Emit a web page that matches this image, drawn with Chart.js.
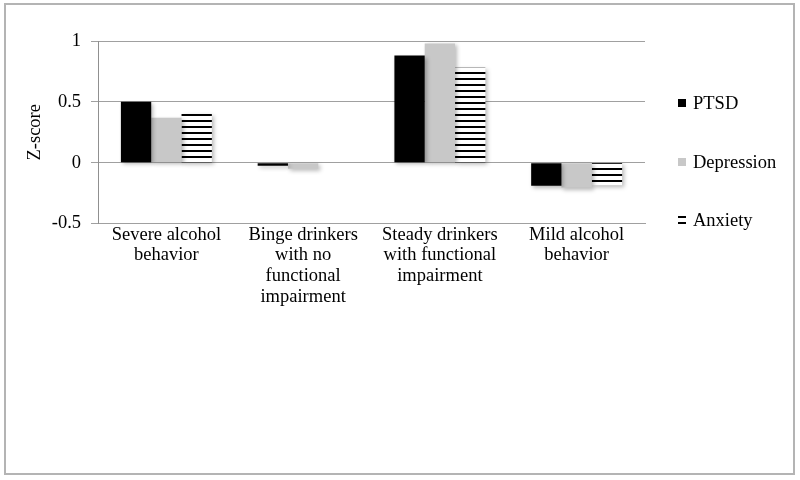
<!DOCTYPE html>
<html>
<head>
<meta charset="utf-8">
<script src="https://cdn.jsdelivr.net/npm/chart.js@4"></script>
<style>
  html, body { margin: 0; padding: 0; background: #fff; }
  #wrap { position: relative; width: 800px; height: 480px; }
  #probe { position: absolute; left: -9999px; font-family: "Liberation Serif"; font-size: 18px; }
</style>
</head>
<body>
<span id="probe">Severe alcohol</span>
<div id="wrap"><canvas id="chart" width="800" height="480"></canvas></div>
<script>
const categories = [
  ["Severe alcohol", "behavior"],
  ["Binge drinkers", "with no", "functional", "impairment"],
  ["Steady drinkers", "with functional", "impairment"],
  ["Mild alcohol", "behavior"]
];
const ptsdValues = [0.50, -0.025, 0.88, -0.19];
const depressionValues = [0.37, -0.05, 0.98, -0.205];
const anxietyValues = [0.40, 0.0, 0.78, -0.185];
const yTicks = [-0.5, 0, 0.5, 1];

const serif = "Liberation Serif";

function stripePattern() {
  const c = document.createElement("canvas");
  c.width = 8;
  c.height = 6;
  const g = c.getContext("2d");
  g.fillStyle = "#ffffff";
  g.fillRect(0, 0, 8, 6);
  g.fillStyle = "#000000";
  g.fillRect(0, 0, 8, 2);
  return g.createPattern(c, "repeat");
}

const frameAndLegend = {
  id: "frameAndLegend",
  beforeDatasetsDraw(chart) {
    const ctx = chart.ctx;
    ctx.save();
    ctx.shadowColor = "rgba(0,0,0,0.28)";
    ctx.shadowBlur = 4;
    ctx.shadowOffsetX = 2;
    ctx.shadowOffsetY = 2;
  },
  afterDatasetsDraw(chart) {
    chart.ctx.restore();
  },
  afterDraw(chart) {
    const ctx = chart.ctx;
    ctx.save();
    ctx.strokeStyle = "#b4b4b4";
    ctx.lineWidth = 2;
    ctx.strokeRect(5, 4, 789, 470);

    const rows = [103, 162, 220];
    ctx.font = "18.5px \"Liberation Serif\"";
    ctx.textBaseline = "middle";
    chart.data.datasets.forEach(function (ds, i) {
      const y = rows[i];
      ctx.fillStyle = ds.backgroundColor;
      ctx.fillRect(678, y - 4, 8, 8);
      ctx.fillStyle = "#000";
      ctx.fillText(ds.label, 693, y + 1);
    });
    ctx.restore();
  }
};

function drawChart() {
  new Chart(document.getElementById("chart"), {
    type: "bar",
    data: {
      labels: categories,
      datasets: [
        { label: "PTSD", data: ptsdValues, backgroundColor: "#000000" },
        { label: "Depression", data: depressionValues, backgroundColor: "#c8c8c8" },
        { label: "Anxiety", data: anxietyValues, backgroundColor: stripePattern() }
      ]
    },
    options: {
      responsive: false,
      animation: false,
      layout: { padding: { left: 0, right: 155, top: 41, bottom: 0 } },
      datasets: {
        bar: { categoryPercentage: 0.665, barPercentage: 1.0, borderWidth: 0 }
      },
      plugins: {
        legend: { display: false },
        tooltip: { enabled: false }
      },
      scales: {
        x: {
          grid: { display: false, drawTicks: false },
          border: { display: true, color: "#a0a0a0", width: 1 },
          ticks: {
            color: "#000",
            font: { family: serif, size: 18.5, lineHeight: 1.12 },
            padding: 1,
            maxRotation: 0,
            autoSkip: false
          },
          afterFit(scale) { scale.height = 256.5; }
        },
        y: {
          min: -0.5,
          max: 1,
          afterBuildTicks(scale) {
            scale.ticks = yTicks.map(function (v) { return { value: v }; });
          },
          grid: { color: "#a0a0a0", lineWidth: 1, tickLength: 7, drawTicks: true },
          border: { display: true, color: "#909090", width: 1 },
          ticks: {
            color: "#000",
            font: { family: serif, size: 18.5 },
            padding: 10,
            callback: function (v) { return String(v); }
          },
          title: {
            display: true,
            text: "Z-score",
            color: "#000",
            font: { family: serif, size: 18.5 },
            padding: { top: 24, bottom: 0 }
          },
          afterFit(scale) { scale.width = 98; }
        }
      }
    },
    plugins: [frameAndLegend]
  });
}

if (document.fonts && document.fonts.load) {
  document.fonts.load("18px \"Liberation Serif\"").then(drawChart, drawChart);
} else {
  drawChart();
}
</script>
</body>
</html>
